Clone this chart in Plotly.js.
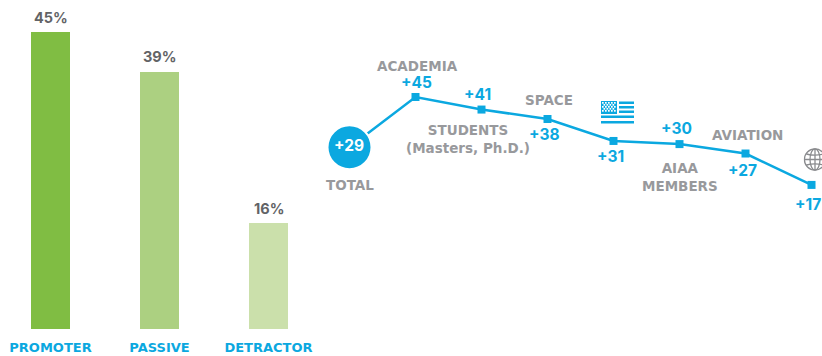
<!DOCTYPE html>
<html>
<head>
<meta charset="utf-8">
<script src="https://cdn.plot.ly/plotly-3.0.1.min.js"></script>
<style>html,body{margin:0;padding:0;background:#fff}#chart{width:822px;height:356px}</style>
</head>
<body>
<div id="chart"></div>
<script>
// Share of respondents in each category
const categories = ['PROMOTER', 'PASSIVE', 'DETRACTOR'];
const shares = [45, 39, 16];
const barColors = ['#80bd43', '#acd081', '#cbe0ab'];

// Net score by group
const groups = ['TOTAL', 'ACADEMIA', 'STUDENTS', 'SPACE', 'US', 'AIAA', 'AVIATION', 'GLOBAL'];
const scores = [29, 45, 41, 38, 31, 30, 27, 17];

// Value label offsets from each point, and group captions
const scoreOffsets = [[-1, 2], [1, 15], [-4, 15], [-3, -16], [-3, -16], [-3, 16], [-3, -17], [-4, -20]];
const captions = [
  {g: 0, text: 'TOTAL', dx: 0, dy: -38},
  {g: 1, text: 'ACADEMIA', dx: 2, dy: 31},
  {g: 2, text: 'STUDENTS<br>(Masters, Ph.D.)', dx: -14, dy: -29},
  {g: 3, text: 'SPACE', dx: 1, dy: 19},
  {g: 5, text: 'AIAA<br>MEMBERS', dx: 0, dy: -33},
  {g: 6, text: 'AVIATION', dx: 2, dy: 19}
];

const BLUE = '#0ba8e0';
const GREY = '#98999c';
const FONT = '"DejaVu Sans", sans-serif';
const NUM_FONT = 'Inter, "DejaVu Sans", sans-serif';

const flagIcon = `<svg xmlns="http://www.w3.org/2000/svg" width="33" height="23" viewBox="0 0 33 23">
<rect x="0" y="0" width="16" height="13" fill="${BLUE}"/>
<g fill="#fff">${[2,6,10].map(y => [2,5,8,11,14].map(x => `<rect x="${x-1}" y="${y-1}" width="1.7" height="1.7"/>`).join('')).join('')}
${[4,8].map(y => [3.5,6.5,9.5,12.5].map(x => `<rect x="${x-1}" y="${y-1}" width="1.7" height="1.7"/>`).join('')).join('')}</g>
<g fill="${BLUE}"><rect x="18" y="0.5" width="15" height="2.5"/><rect x="18" y="5" width="15" height="2.5"/><rect x="18" y="9.5" width="15" height="2.5"/>
<rect x="0" y="14.5" width="33" height="2.5"/><rect x="0" y="20" width="33" height="2.5"/></g></svg>`;

const globeIcon = `<svg xmlns="http://www.w3.org/2000/svg" width="23" height="23" viewBox="0 0 23 23">
<g fill="none" stroke="#8a8b8e" stroke-width="1.3"><circle cx="11.5" cy="11.5" r="10.6"/><ellipse cx="11.5" cy="11.5" rx="5" ry="10.6"/>
<line x1="11.5" y1="1" x2="11.5" y2="22"/><line x1="1" y1="11.5" x2="22" y2="11.5"/>
<path d="M3 6 Q11.5 8.4 20 6"/><path d="M3 17 Q11.5 14.6 20 17"/></g></svg>`;

const svgUri = s => 'data:image/svg+xml;base64,' + btoa(s);

const traces = [
  {
    type: 'bar', x: categories, y: shares, xaxis: 'x', yaxis: 'y',
    width: 39 / 109,
    marker: {color: barColors},
    hoverinfo: 'x+y'
  },
  {
    type: 'scatter', mode: 'lines+markers', x: groups, y: scores, xaxis: 'x2', yaxis: 'y2',
    line: {color: BLUE, width: 2.5},
    marker: {
      color: BLUE,
      opacity: 1,
      symbol: groups.map((g, i) => i === 0 ? 'circle' : 'square'),
      size: groups.map((g, i) => i === 0 ? 44 : 8),
      line: {color: '#fff', width: groups.map((g, i) => i === 0 ? 2 : 0)}
    },
    cliponaxis: false,
    hoverinfo: 'x+y'
  }
];

const annotations = [];
shares.forEach((v, i) => annotations.push({
  xref: 'x', yref: 'y', x: categories[i], y: v, yshift: 15,
  text: v + '%', showarrow: false, xanchor: 'center', yanchor: 'middle',
  font: {family: NUM_FONT, size: 14.5, color: '#626366', weight: 700}
}));
scores.forEach((v, i) => annotations.push({
  xref: 'x2', yref: 'y2', x: groups[i], y: v,
  xshift: scoreOffsets[i][0], yshift: scoreOffsets[i][1],
  text: '+' + v, showarrow: false, xanchor: 'center', yanchor: 'middle',
  font: {family: NUM_FONT, size: 15.5, color: i === 0 ? '#fff' : BLUE, weight: 700}
}));
captions.forEach(c => annotations.push({
  xref: 'x2', yref: 'y2', x: groups[c.g], y: scores[c.g],
  xshift: c.dx, yshift: c.dy,
  text: c.text, showarrow: false, xanchor: 'center', yanchor: 'middle',
  font: {family: FONT, size: 13.5, color: GREY, weight: 700}
}));

const layout = {
  width: 822, height: 356,
  margin: {l: 0, r: 0, t: 0, b: 0},
  paper_bgcolor: '#fff', plot_bgcolor: '#fff',
  showlegend: false,
  xaxis: {
    domain: [0, 320 / 822], range: [-0.4633, 2.4725], type: 'category',
    showline: false, showgrid: false, zeroline: false, ticks: 'outside', ticklen: 6, tickcolor: 'rgba(0,0,0,0)',
    tickfont: {family: FONT, size: 13, color: BLUE, weight: 700}, anchor: 'y'
  },
  yaxis: {
    domain: [27 / 356, 1], range: [0, 329 / 6.6], visible: false, anchor: 'x'
  },
  xaxis2: {
    domain: [322 / 822, 1], range: [-0.4167, 7.159], type: 'category',
    visible: false, anchor: 'y2'
  },
  yaxis2: {
    domain: [0, 1], range: [-37.48, 75.89], visible: false, anchor: 'x2'
  },
  annotations: annotations,
  images: [
    {source: svgUri(flagIcon), xref: 'paper', yref: 'paper', x: 601 / 822, y: 1 - 101 / 356,
     sizex: 33 / 822, sizey: 23 / 356, xanchor: 'left', yanchor: 'top', sizing: 'stretch', layer: 'above'},
    {source: svgUri(globeIcon), xref: 'paper', yref: 'paper', x: 803.5 / 822, y: 1 - 148 / 356,
     sizex: 23 / 822, sizey: 23 / 356, xanchor: 'left', yanchor: 'top', sizing: 'stretch', layer: 'above'}
  ],
  bargap: 0
};

Plotly.newPlot('chart', traces, layout, {displayModeBar: false, responsive: false});
</script>
</body>
</html>
